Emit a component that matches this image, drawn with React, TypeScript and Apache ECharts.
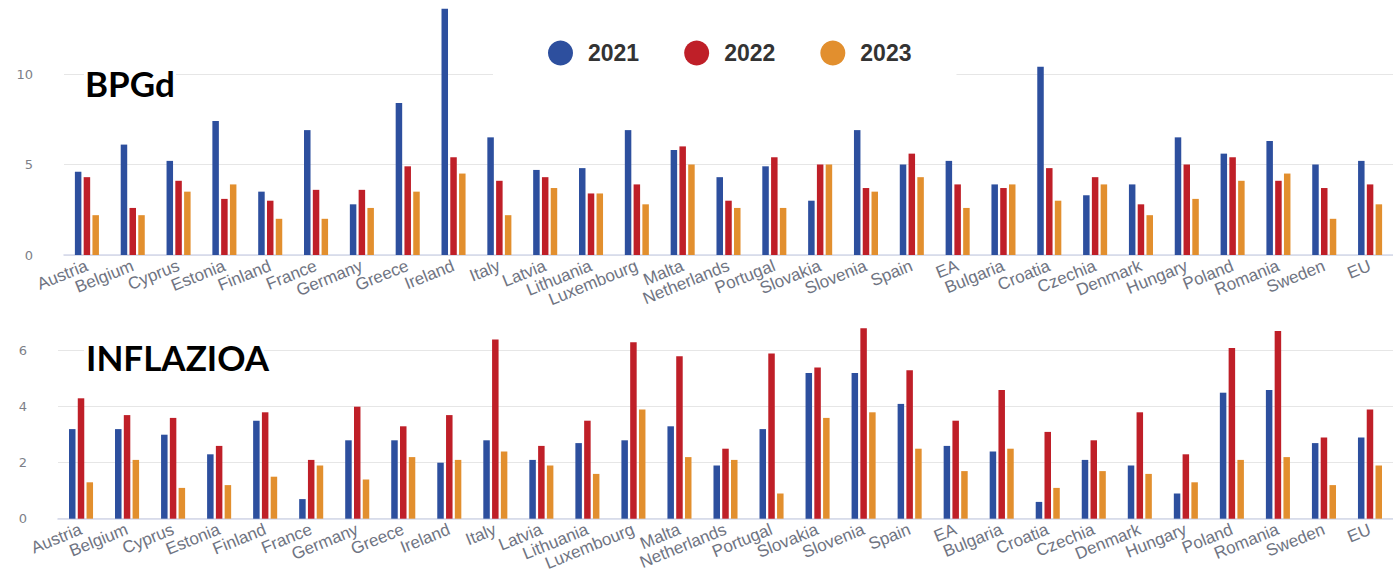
import React, { useEffect, useRef } from "react";
import * as echarts from "echarts";

const categories = [
  "Austria", "Belgium", "Cyprus", "Estonia", "Finland", "France", "Germany", "Greece", "Ireland",
  "Italy", "Latvia", "Lithuania", "Luxembourg", "Malta", "Netherlands", "Portugal", "Slovakia",
  "Slovenia", "Spain", "EA", "Bulgaria", "Croatia", "Czechia", "Denmark", "Hungary", "Poland",
  "Romania", "Sweden", "EU",
];

const years = ["2021", "2022", "2023"];

const gdp2021 = [4.6, 6.1, 5.2, 7.4, 3.5, 6.9, 2.8, 8.4, 13.6, 6.5, 4.7, 4.8, 6.9, 5.8, 4.3, 4.9, 3.0, 6.9, 5.0, 5.2, 3.9, 10.4, 3.3, 3.9, 6.5, 5.6, 6.3, 5.0, 5.2];
const gdp2022 = [4.3, 2.6, 4.1, 3.1, 3.0, 3.6, 3.6, 4.9, 5.4, 4.1, 4.3, 3.4, 3.9, 6.0, 3.0, 5.4, 5.0, 3.7, 5.6, 3.9, 3.7, 4.8, 4.3, 2.8, 5.0, 5.4, 4.1, 3.7, 3.9];
const gdp2023 = [2.2, 2.2, 3.5, 3.9, 2.0, 2.0, 2.6, 3.5, 4.5, 2.2, 3.7, 3.4, 2.8, 5.0, 2.6, 2.6, 5.0, 3.5, 4.3, 2.6, 3.9, 3.0, 3.9, 2.2, 3.1, 4.1, 4.5, 2.0, 2.8];

const inf2021 = [3.2, 3.2, 3.0, 2.3, 3.5, 0.7, 2.8, 2.8, 2.0, 2.8, 2.1, 2.7, 2.8, 3.3, 1.9, 3.2, 5.2, 5.2, 4.1, 2.6, 2.4, 0.6, 2.1, 1.9, 0.9, 4.5, 4.6, 2.7, 2.9];
const inf2022 = [4.3, 3.7, 3.6, 2.6, 3.8, 2.1, 4.0, 3.3, 3.7, 6.4, 2.6, 3.5, 6.3, 5.8, 2.5, 5.9, 5.4, 6.8, 5.3, 3.5, 4.6, 3.1, 2.8, 3.8, 2.3, 6.1, 6.7, 2.9, 3.9];
const inf2023 = [1.3, 2.1, 1.1, 1.2, 1.5, 1.9, 1.4, 2.2, 2.1, 2.4, 1.9, 1.6, 3.9, 2.2, 2.1, 0.9, 3.6, 3.8, 2.5, 1.7, 2.5, 1.1, 1.7, 1.6, 1.3, 2.1, 2.2, 1.2, 1.9];

const gdpTicks = { min: 0, max: 14, interval: 5 };
const infTicks = { min: 0, max: 7, interval: 2 };

const titleTop = "BPGd";
const titleBottom = "INFLAZIOA";

const colors = ["#2d4f9e", "#bf1f28", "#e28f2e"];

export default function App() {
  const ref = useRef<HTMLDivElement>(null);

  useEffect(() => {
    if (!ref.current) return;
    const chart = echarts.init(ref.current, undefined, { renderer: "svg" });

    const catLabel = {
      rotate: 22,
      interval: 0,
      margin: 10,
      fontSize: 17,
      color: "#6f7482",
      fontFamily: "Liberation Sans, Arial, sans-serif",
    };
    const yLabel = {
      fontSize: 13,
      color: "#7d7f88",
      margin: 31,
      fontFamily: "DejaVu Sans, sans-serif",
      showMaxLabel: false,
    };
    const splitLine = { show: true, showMaxLine: false, lineStyle: { color: "#e6e6e6", width: 1.2 } };
    const axisLine = { show: true, lineStyle: { color: "#d3d8ea", width: 1.6 } };

    const gdpSets = [gdp2021, gdp2022, gdp2023];
    const infSets = [inf2021, inf2022, inf2023];
    const series: any[] = [];
    years.forEach((y, i) => {
      series.push({
        name: y,
        type: "bar",
        xAxisIndex: 0,
        yAxisIndex: 0,
        data: gdpSets[i],
        barWidth: 6.5,
        barGap: "35%",
        itemStyle: { color: colors[i] },
      });
    });
    years.forEach((y, i) => {
      series.push({
        name: y,
        type: "bar",
        xAxisIndex: 1,
        yAxisIndex: 1,
        data: infSets[i],
        barWidth: 6.5,
        barGap: "35%",
        itemStyle: { color: colors[i] },
      });
    });

    const titleFont = "bold 35px Lato, 'Open Sans', sans-serif";

    chart.setOption({
      animation: false,
      color: colors,
      grid: [
        { left: 64, right: 0, top: 1.6, bottom: 325, containLabel: false },
        { left: 58, right: -10, top: 322.7, bottom: 61.3, containLabel: false },
      ],
      legend: {
        data: years,
        left: 493,
        top: 25.5,
        icon: "circle",
        itemWidth: 25,
        itemHeight: 25,
        itemGap: 45,
        padding: [15, 45, 12, 55],
        backgroundColor: "#ffffff",
        textStyle: {
          fontSize: 23,
          fontWeight: "bold",
          color: "#333333",
          fontFamily: "Liberation Sans, Arial, sans-serif",
          padding: [0, 0, 0, 10],
        },
        z: 20,
      },
      xAxis: [
        {
          type: "category",
          gridIndex: 0,
          data: categories,
          axisTick: { show: false },
          axisLine,
          axisLabel: catLabel,
        },
        {
          type: "category",
          gridIndex: 1,
          data: categories,
          axisTick: { show: false },
          axisLine,
          axisLabel: catLabel,
        },
      ],
      yAxis: [
        {
          type: "value",
          gridIndex: 0,
          ...gdpTicks,
          axisLine: { show: false },
          axisTick: { show: false },
          axisLabel: yLabel,
          splitLine,
        },
        {
          type: "value",
          gridIndex: 1,
          ...infTicks,
          axisLine: { show: false },
          axisTick: { show: false },
          axisLabel: yLabel,
          splitLine,
        },
      ],
      graphic: [
        {
          type: "rect",
          z: 100,
          zlevel: 0,
          shape: { x: 84, y: 64, width: 92, height: 36 },
          style: { fill: "#ffffff" },
        },
        {
          type: "text",
          z: 101,
          x: 85,
          y: 83,
          style: { text: titleTop, font: titleFont, fill: "#000000", verticalAlign: "middle" },
        },
        {
          type: "rect",
          z: 100,
          shape: { x: 84, y: 338, width: 180, height: 36 },
          style: { fill: "#ffffff" },
        },
        {
          type: "text",
          z: 101,
          x: 86,
          y: 357,
          style: { text: titleBottom, font: titleFont, fill: "#000000", verticalAlign: "middle" },
        },
      ],
      series,
    });

    return () => {
      chart.dispose();
    };
  }, []);

  return (
    <div
      ref={ref}
      style={{ position: "fixed", left: 0, top: 0, width: 1393, height: 580, background: "#ffffff" }}
    />
  );
}
